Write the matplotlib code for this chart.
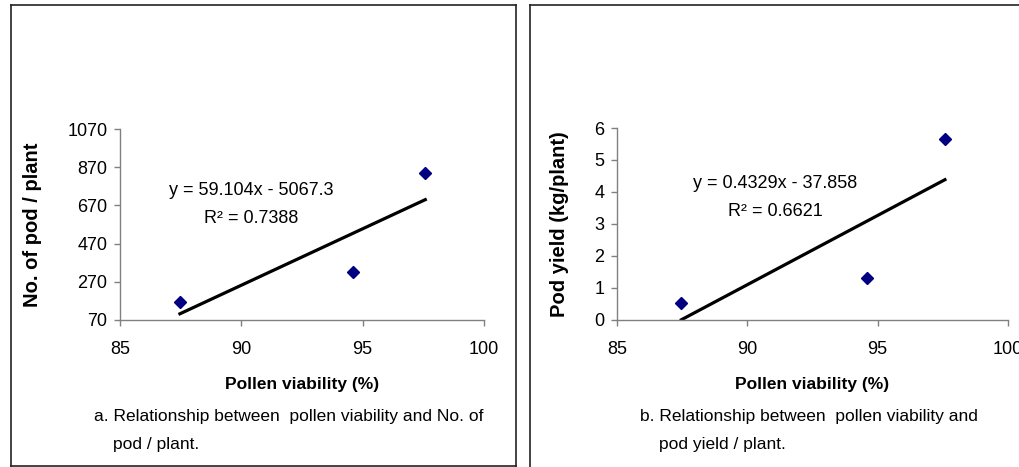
import numpy as np
import matplotlib.pyplot as plt
from matplotlib.lines import Line2D

plt.rcParams['font.family'] = ['Liberation Sans', 'DejaVu Sans']

# data
pollen = [87.47, 94.6, 97.58]
pods = [164, 320, 841]
yield_kg = [0.54, 1.30, 5.65]

# trendline coefficients as printed on the chart
pods_fit = (59.104, -5067.3, 0.7388)
yield_fit = (0.4329, -37.858, 0.6621)

W, H = 1020, 467
fig = plt.figure(figsize=(W / 100, H / 100), dpi=100)


def fx(px):
    return px / W


def fy(py):
    return 1 - py / H


def box(x0, x1, y0, y1):
    ## panel frame, in pixels from the top left
    kw = dict(color='#222222', lw=1.2, transform=fig.transFigure)
    fig.add_artist(Line2D([fx(x0), fx(x1)], [fy(y0), fy(y0)], **kw))
    fig.add_artist(Line2D([fx(x0), fx(x0)], [fy(y0), fy(y1)], **kw))
    if x1 < W:
        fig.add_artist(Line2D([fx(x1), fx(x1)], [fy(y0), fy(y1)], **kw))
    if y1 < H:
        fig.add_artist(Line2D([fx(x0), fx(x1)], [fy(y1), fy(y1)], **kw))


def panel(rect, y, fit, yticks, ylabel, eq_pos, caption, cap_xy):
    ax = fig.add_axes(rect)
    slope, icpt, r2 = fit
    xs = np.array([min(pollen), max(pollen)])
    ax.plot(xs, slope * xs + icpt, color='black', lw=2.3, zorder=2)
    ax.plot(pollen, y, 'D', color='#000080', ms=6.5, zorder=3, clip_on=False)
    ax.set_xlim(85, 100)
    ax.set_ylim(yticks[0], yticks[-1])
    ax.set_xticks([85, 90, 95, 100])
    ax.set_yticks(yticks)
    for s in ['top', 'right']:
        ax.spines[s].set_visible(False)
    for s in ['left', 'bottom']:
        ax.spines[s].set_color('#808080')
        ax.spines[s].set_linewidth(1.0)
    ax.tick_params(axis='x', direction='out', length=4, width=1.0, color='#808080',
                   labelsize=13, pad=11)
    ax.tick_params(axis='y', direction='out', length=4, width=1.0, color='#808080',
                   labelsize=13, pad=5)
    ax.set_xlabel('Pollen viability (%)', fontsize=12.5, fontweight='bold', labelpad=14)
    ax.set_ylabel(ylabel, fontsize=14.5, fontweight='bold', labelpad=18)
    sign = '-' if icpt < 0 else '+'
    ex, ey1, ey2 = eq_pos
    ax.text(ex, ey1, 'y = %sx %s %s' % (slope, sign, abs(icpt)), fontsize=13,
            ha='center', va='center')
    ax.text(ex, ey2, 'R² = %s' % r2, fontsize=13, ha='center', va='center')
    cx, cy = cap_xy
    fig.text(fx(cx), fy(cy), caption[0], fontsize=12.5, ha='left', va='center')
    fig.text(fx(cx + 19), fy(cy + 28), caption[1], fontsize=12.5, ha='left', va='center')
    return ax


box(11, 516, 5, 466)
box(530, W + 5, 5, H + 5)

panel([fx(120), fy(320), fx(484) - fx(120), fy(129) - fy(320)], pods, pods_fit,
      [70, 270, 470, 670, 870, 1070], 'No. of pod / plant',
      (90.42, 747, 604),
      ['a. Relationship between  pollen viability and No. of', 'pod / plant.'],
      (94, 417))

panel([fx(617), fy(320), fx(1008) - fx(617), fy(128) - fy(320)], yield_kg, yield_fit,
      [0, 1, 2, 3, 4, 5, 6], 'Pod yield (kg/plant)',
      (91.08, 4.27, 3.38),
      ['b. Relationship between  pollen viability and', 'pod yield / plant.'],
      (640, 417))

fig.savefig('out.png', dpi=100)
